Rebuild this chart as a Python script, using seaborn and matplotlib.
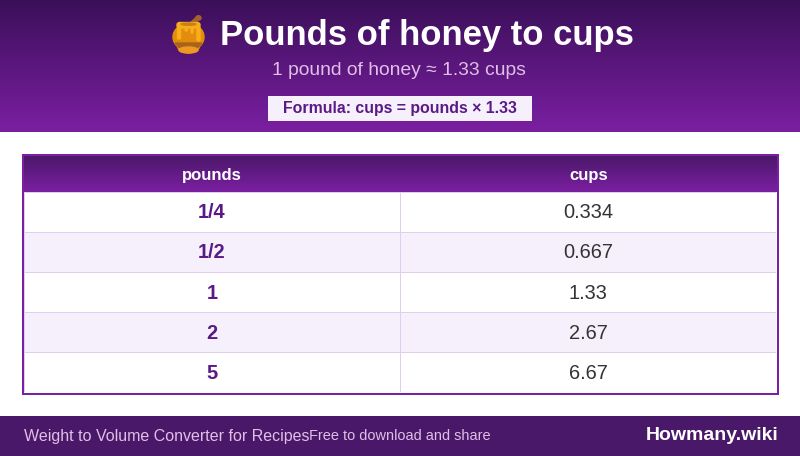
# honey conversion card: table body is a seaborn heatmap, banner and footer are plain axes
import numpy as np
import matplotlib
matplotlib.use("Agg")
import matplotlib.pyplot as plt
from matplotlib.colors import ListedColormap, LinearSegmentedColormap
from matplotlib.patches import Ellipse, FancyBboxPatch, Polygon, Rectangle
import seaborn as sns

# === DATA ===
TITLE = "Pounds of honey to cups"
SUBTITLE = "1 pound of honey ≈ 1.33 cups"
FORMULA = "Formula: cups = pounds × 1.33"
COLUMNS = ["pounds", "cups"]
POUNDS = ["1/4", "1/2", "1", "2", "5"]
CUPS = ["0.334", "0.667", "1.33", "2.67", "6.67"]
FOOTER_LEFT = "Weight to Volume Converter for Recipes"
FOOTER_MID = "Free to download and share"
BRAND = "Howmany.wiki"

# === COLOURS ===
PURPLE = "#7B1FA2"
DARK = "#4A1868"
BANNER_TOP = "#3A0F58"
INK = "#5A1A85"
GRID = "#E1CDEE"
BAND = "#F5F0FB"

W, H = 800, 456

sns.set_theme(style="white")
plt.rcParams["font.family"] = ["Liberation Sans", "DejaVu Sans"]


def px_axes(fig, x0, y0, x1, y1):
    # axes from pixel box, y counted from the top of the image
    return fig.add_axes([x0 / W, 1 - y1 / H, (x1 - x0) / W, (y1 - y0) / H])


def gradient(ax, top, bottom):
    cmap = LinearSegmentedColormap.from_list("g", [top, bottom])
    ax.imshow(np.linspace(0, 1, 256)[:, None], aspect="auto", cmap=cmap,
              extent=(0, 1, 0, 1), zorder=0)
    ax.set_axis_off()


def honey_jar(ax):
    # rough drawing of the honey pot emoji, in page pixels
    ax.add_patch(Polygon([(188, 25), (197, 16.5), (200, 18.5), (191, 27)], color="#A5612B", zorder=3))
    ax.add_patch(Ellipse((198.5, 18), 5, 4.5, color="#A5612B", zorder=3))
    ax.add_patch(Ellipse((188.5, 37), 31, 27, color="#E48C0E", zorder=2))
    ax.add_patch(Ellipse((188.5, 46), 22, 14, color="#E48C0E", zorder=2))
    ax.add_patch(Polygon([(175, 43), (202, 43), (198, 47.5), (179, 47.5)], color="#A8641C", zorder=3))
    ax.add_patch(Ellipse((188.5, 50), 19, 6, color="#EE9A22", zorder=3))
    ax.add_patch(FancyBboxPatch((178, 23.5), 21, 3.5, boxstyle="round,pad=1,rounding_size=2.5",
                                color="#F6AE1A", zorder=4))
    ax.add_patch(Ellipse((188.5, 24.2), 15, 2.2, color="#C9801A", zorder=5))
    for x0, wid, end in [(177.5, 3, 39), (185, 2.5, 31), (191, 2, 33), (197, 3, 41)]:
        ax.add_patch(FancyBboxPatch((x0, 27), wid, end - 27, boxstyle="round,pad=0,rounding_size=1.2",
                                    color="#F6AE1A", zorder=4))


def main():
    fig = plt.figure(figsize=((W + 0.01) / 100, (H + 0.01) / 100), dpi=100, facecolor="white")

    # banner and footer backgrounds
    gradient(px_axes(fig, 0, 0, W, 132), BANNER_TOP, PURPLE)
    gradient(px_axes(fig, 24, 156, 777, 192), DARK, PURPLE)

    # table body
    ax = px_axes(fig, 24, 192, 776, 392.5)
    band = np.array([[i % 2, i % 2] for i in range(len(POUNDS))])
    labels = np.array([POUNDS, CUPS]).T
    sns.heatmap(band, annot=labels, fmt="", cbar=False, ax=ax,
                cmap=ListedColormap(["white", BAND]), vmin=0, vmax=1,
                linewidths=0.72, linecolor=GRID,
                xticklabels=False, yticklabels=False,
                annot_kws={"fontsize": 14.4})
    for txt in ax.texts:
        x, y = txt.get_position()
        txt.set_y(y + 0.02)
        if x < 1:
            txt.set(color=INK, fontweight="bold")
        else:
            txt.set(color="#333333", fontweight="normal")

    # page layer: everything else in pixel coordinates
    page = fig.add_axes([0, 0, 1, 1], facecolor="none")
    page.set_xlim(0, W)
    page.set_ylim(H, 0)
    page.set_axis_off()

    page.add_patch(Rectangle((23, 155), 755, 239, fill=False, edgecolor=PURPLE, linewidth=1.44, zorder=6))
    page.add_patch(Rectangle((0, 416), W, 40, color=DARK, linewidth=0, zorder=1))
    page.add_patch(Rectangle((268, 96), 264, 25, color=BAND, linewidth=0, zorder=1))

    honey_jar(page)
    page.text(426.5, 35, TITLE, color="white", fontsize=24.9, fontweight="bold", ha="center", va="center")
    page.text(399, 70, SUBTITLE, color="#E1BEE7", fontsize=13.9, ha="center", va="center")
    page.text(400, 108, FORMULA, color=INK, fontsize=11.4, fontweight="bold", ha="center", va="center")

    page.text(211.5, 175, COLUMNS[0], color="white", fontsize=12, fontweight="bold", ha="center", va="center", zorder=7)
    page.text(588.5, 175, COLUMNS[1], color="white", fontsize=12, fontweight="bold", ha="center", va="center", zorder=7)

    page.text(24, 436, FOOTER_LEFT, color="#E1BEE7", fontsize=11.5, ha="left", va="center", zorder=7)
    page.text(309, 436, FOOTER_MID, color="#E1BEE7", fontsize=10.45, ha="left", va="center", zorder=7)
    page.text(778.5, 435, BRAND, color="white", fontsize=14, fontweight="bold", ha="right", va="center", zorder=7)

    fig.savefig("out.png", dpi=100)
    plt.close(fig)


if __name__ == "__main__":
    main()
